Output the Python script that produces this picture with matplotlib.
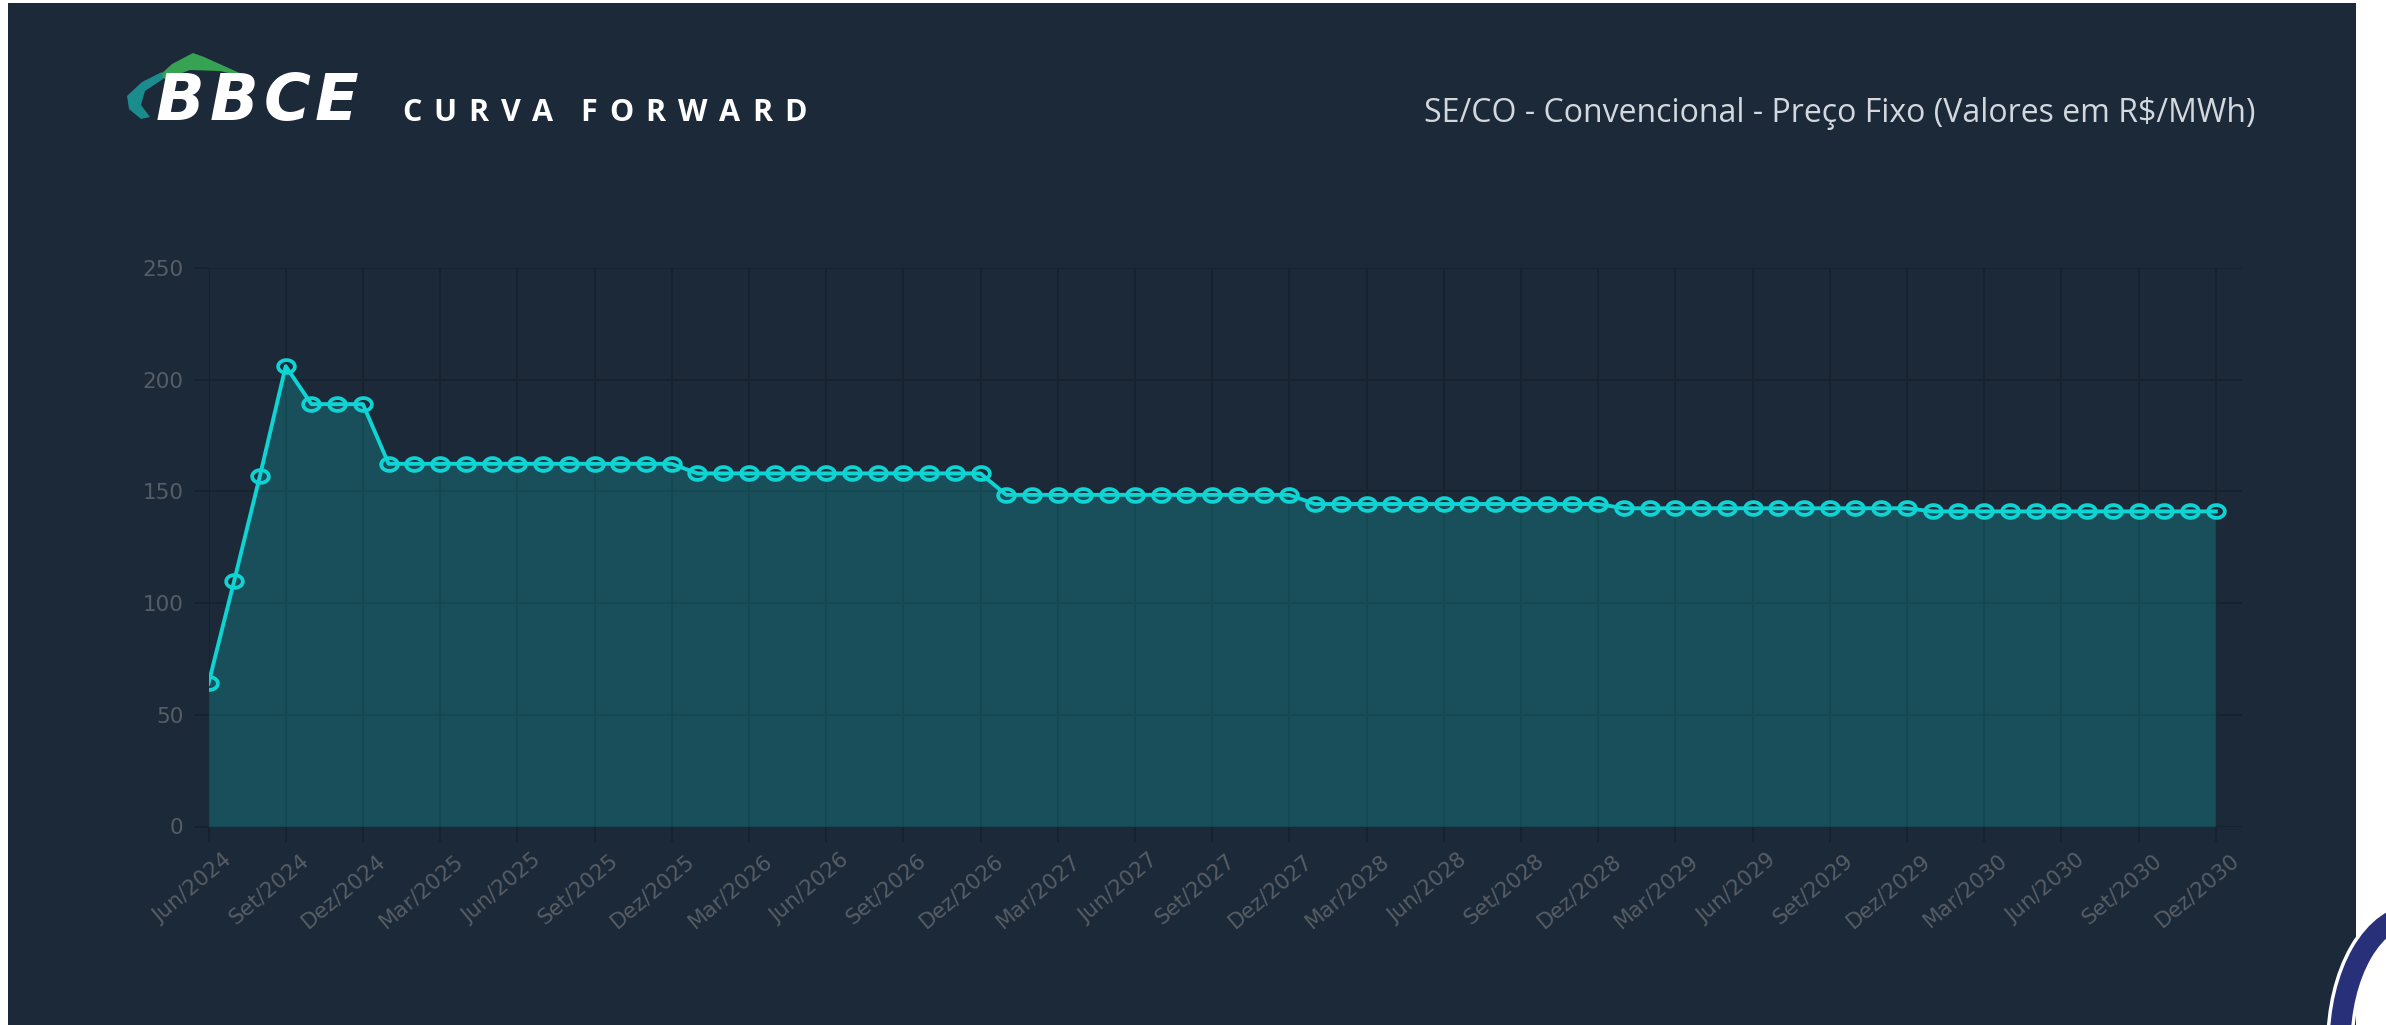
import numpy as np
import matplotlib
matplotlib.use("Agg")
import matplotlib.pyplot as plt
from matplotlib.path import Path
from matplotlib.patches import Rectangle, Polygon, Arc
from matplotlib.transforms import ScaledTranslation

# categorias: meses de Jun/2024 a Dez/2030
month_names = ["Jan", "Fev", "Mar", "Abr", "Mai", "Jun",
               "Jul", "Ago", "Set", "Out", "Nov", "Dez"]
years = [2024, 2025, 2026, 2027, 2028, 2029, 2030]
months = [m + "/" + str(y) for y in years for m in month_names][5:]

# precos R$/MWh
prices = [64, 110, 157, 206, 189, 189, 189,
          162.3, 162.3, 162.3, 162.3, 162.3, 162.3, 162.3, 162.3, 162.3, 162.3, 162.3, 162.3,
          158.0, 158.0, 158.0, 158.0, 158.0, 158.0, 158.0, 158.0, 158.0, 158.0, 158.0, 158.0,
          148.4, 148.4, 148.4, 148.4, 148.4, 148.4, 148.4, 148.4, 148.4, 148.4, 148.4, 148.4,
          144.3, 144.3, 144.3, 144.3, 144.3, 144.3, 144.3, 144.3, 144.3, 144.3, 144.3, 144.3,
          142.4, 142.4, 142.4, 142.4, 142.4, 142.4, 142.4, 142.4, 142.4, 142.4, 142.4, 142.4,
          141.0, 141.0, 141.0, 141.0, 141.0, 141.0, 141.0, 141.0, 141.0, 141.0, 141.0, 141.0]

tick_labels = months[::3]
y_ticks = [0, 50, 100, 150, 200, 250]

logo = "BBCE"
title = "CURVA FORWARD"
subtitle = "SE/CO - Convencional - Preço Fixo (Valores em R$/MWh)"

W, H = 2386, 1025
bg = "#1c2939"
grid_c = "#16222d"
tick_c = "#575d64"
cyan = "#0fd4d4"

fig = plt.figure(figsize=(W / 100, H / 100), dpi=100, facecolor="white")
renderer = fig.canvas.get_renderer()

# fundo / cabecalho em coordenadas de pixel
axb = fig.add_axes([0, 0, 1, 1], zorder=0)
axb.set_xlim(0, W)
axb.set_ylim(H, 0)
axb.axis("off")
axb.add_patch(Rectangle((8, 3), 2348, H, color=bg, lw=0))


def spaced_text(s, x0, y0, gap, word_gap, **kw):
    # escreve letra por letra para imitar o letter-spacing do original
    x = x0
    for ch in s:
        if ch == " ":
            x += word_gap - gap
            continue
        t = axb.text(x, y0, ch, va="baseline", ha="left", **kw)
        bb = t.get_window_extent(renderer)
        x += bb.width + gap


# logo (aproximado)
axb.add_patch(Polygon([(158, 77), (172, 64), (193, 53), (204, 57), (253, 79),
                       (220, 71), (190, 70), (166, 79)], closed=True,
                      color="#35a352", lw=0))
axb.add_patch(Polygon([(162, 72), (142, 82), (127, 96), (129, 109), (141, 119),
                       (150, 117), (141, 105), (145, 91), (163, 79)], closed=True,
                      color="#1b8c8e", lw=0))
spaced_text(logo, 156, 120, 5, 0, color="white", fontsize=46,
            fontweight="bold", fontstyle="italic", family="DejaVu Sans")

spaced_text(title, 402, 121, 12, 27, color="white", fontsize=22,
            fontweight="bold", family="Open Sans")
axb.text(2256, 122, subtitle, color="#d3d8de", fontsize=23,
         family="Open Sans", va="baseline", ha="right")

# canto inferior direito
axb.add_patch(Arc((2415, 1045), 150, 260, theta1=180, theta2=270,
                  color="white", lw=20))
axb.add_patch(Arc((2415, 1045), 150, 260, theta1=180, theta2=270,
                  color="#28307a", lw=15))

# grafico
ax = fig.add_axes([208.5 / W, (H - 826.5) / H, (2241.5 - 208.5) / W, 558.7 / H],
                  zorder=1)
ax.set_facecolor("none")
x = np.arange(len(prices))

t = np.linspace(0, 2 * np.pi, 60)
ellipse = Path(np.column_stack([1.3 * np.cos(t), np.sin(t)]), closed=True)

ax.fill_between(x, prices, 0, color=cyan, alpha=0.22, lw=0, zorder=2)
ax.plot(x, prices, color=cyan, lw=2.8, marker=ellipse, ms=12,
        mfc="none", mec=cyan, mew=2.7, zorder=3)

ax.set_xlim(0, 79)
ax.set_ylim(0, 250)
ax.set_yticks(y_ticks)
ax.set_xticks(x[::3])
ax.set_xticklabels(tick_labels, rotation=40, ha="right", va="top",
                   rotation_mode="anchor")
ax.grid(True, color=grid_c, lw=1.4)
ax.set_axisbelow(True)
for s in ax.spines.values():
    s.set_visible(False)
ax.tick_params(length=11, width=1.4, color=grid_c, labelcolor=tick_c,
               labelsize=15.5)
ax.tick_params(axis="y", pad=7)
ax.tick_params(axis="x", pad=6)
for lbl in ax.get_xticklabels():
    lbl.set_transform(lbl.get_transform() + ScaledTranslation(0.14, 0, fig.dpi_scale_trans))

fig.savefig("out.png", dpi=100, facecolor="white")
